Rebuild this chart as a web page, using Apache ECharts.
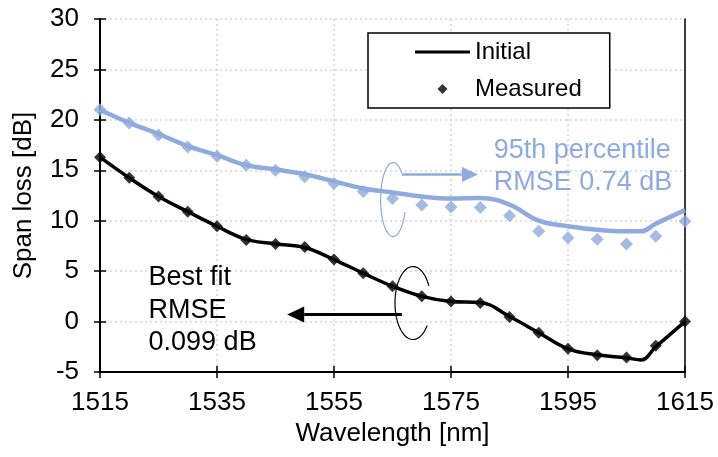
<!DOCTYPE html>
<html>
<head>
<meta charset="utf-8">
<title>Span loss vs wavelength</title>
<script src="https://cdn.jsdelivr.net/npm/echarts@6/dist/echarts.min.js"></script>
<style>
  html, body { margin: 0; padding: 0; background: #fff; }
  #chart { width: 718px; height: 457px; }
</style>
</head>
<body>
<div id="chart"></div>
<script>
// measured points, every 5 nm
const wavelengths = [1515, 1520, 1525, 1530, 1535, 1540, 1545, 1550, 1555, 1560, 1565,
  1570, 1575, 1580, 1585, 1590, 1595, 1600, 1605, 1610, 1615];
const initialMeasured = [16.3, 14.25, 12.4, 10.9, 9.45, 8.1, 7.7, 7.4, 6.15, 4.8, 3.5,
  2.5, 2.0, 1.85, 0.45, -1.1, -2.7, -3.35, -3.55, -2.4, 0.0];
const p95Measured = [21.0, 19.7, 18.5, 17.3, 16.4, 15.5, 15.0, 14.35, 13.7, 12.9, 12.2,
  11.55, 11.35, 11.3, 10.5, 8.95, 8.3, 8.15, 7.7, 8.45, 9.95];

// fitted curves
const fitWavelengths = [1515, 1520, 1525, 1530, 1535, 1540, 1545, 1550, 1555, 1560, 1565,
  1570, 1575, 1580, 1585, 1590, 1595, 1600, 1605, 1607.5, 1610, 1615];
const initialFit = [16.3, 14.25, 12.4, 10.9, 9.45, 8.15, 7.7, 7.35, 6.15, 4.8, 3.5,
  2.5, 2.0, 1.9, 0.5, -1.1, -2.7, -3.3, -3.6, -3.8, -2.5, 0.0];
const p95Fit = [21.0, 19.7, 18.6, 17.4, 16.5, 15.5, 15.1, 14.6, 13.9, 13.2, 12.8,
  12.4, 12.2, 12.25, 11.6, 10.0, 9.45, 9.1, 8.95, 8.95, 9.7, 11.05];

const xTicks = [1515, 1535, 1555, 1575, 1595, 1615];
const yTicks = [-5, 0, 5, 10, 15, 20, 25, 30];

const FONT = '"Liberation Sans", Arial, sans-serif';
const BLUE = '#8faadc';
const x0 = xTicks[0];   // x axis runs from 0 so the ticks land on 1515, 1535 ...

function pairs(xs, ys) {
  return xs.map((x, i) => [x - x0, ys[i]]);
}

const gridLine = { show: true, lineStyle: { color: '#d6d6d6', width: 1.5, type: [2, 3] } };
const xRange = { type: 'value', min: 0, max: xTicks[xTicks.length - 1] - x0, interval: xTicks[1] - xTicks[0] };
const yRange = { type: 'value', min: yTicks[0], max: yTicks[yTicks.length - 1], interval: yTicks[1] - yTicks[0] };
const tickStyle = { color: '#000', width: 1.5 };

const option = {
  animation: false,
  textStyle: { fontFamily: FONT },
  grid: { left: 100, right: 33, top: 19, bottom: 85 },
  legend: {
    left: 368, top: 33,
    orient: 'vertical',
    backgroundColor: '#fff',
    borderColor: '#000', borderWidth: 1.5,
    padding: [5, 28, 5, 47],
    itemWidth: 55, itemHeight: 10, itemGap: 9,
    textStyle: { fontSize: 24, color: '#000', fontFamily: FONT, lineHeight: 28 },
    data: [
      { name: 'Initial', icon: 'path://M0 0 H55 V3 H0 Z' },
      { name: 'Measured', icon: 'path://M5 0 L10 5 L5 10 L0 5 Z' }
    ],
    selectedMode: false
  },
  xAxis: [
    Object.assign({}, xRange, {
      position: 'bottom',
      name: 'Wavelength [nm]', nameLocation: 'middle', nameGap: 45,
      nameTextStyle: { fontSize: 26, color: '#000', fontFamily: FONT },
      axisLine: { show: true, onZero: false, lineStyle: { color: '#000', width: 2 } },
      axisTick: { show: true, length: 6, lineStyle: tickStyle },
      axisLabel: { fontSize: 26, color: '#000', margin: 18, formatter: v => String(v + x0) },
      splitLine: gridLine
    }),
    // second copy only to draw the inner half of the ticks
    Object.assign({}, xRange, {
      position: 'bottom',
      axisLine: { show: false, onZero: false },
      axisTick: { show: true, inside: true, length: 6, lineStyle: tickStyle },
      axisLabel: { show: false },
      splitLine: { show: false }
    })
  ],
  yAxis: [
    Object.assign({}, yRange, {
      position: 'left',
      name: 'Span loss [dB]', nameLocation: 'middle', nameGap: 63,
      nameTextStyle: { fontSize: 26, color: '#000', fontFamily: FONT },
      axisLine: { show: true, onZero: false, lineStyle: { color: '#000', width: 2 } },
      axisTick: { show: true, length: 6, lineStyle: tickStyle },
      axisLabel: { fontSize: 26, color: '#000', margin: 21 },
      splitLine: gridLine
    }),
    Object.assign({}, yRange, {
      position: 'left',
      axisLine: { show: false, onZero: false },
      axisTick: { show: true, inside: true, length: 6, lineStyle: tickStyle },
      axisLabel: { show: false },
      splitLine: { show: false }
    }),
    // right frame line
    Object.assign({}, yRange, {
      position: 'right',
      axisLine: { show: true, onZero: false, lineStyle: { color: '#000', width: 1.5 } },
      axisTick: { show: false },
      axisLabel: { show: false },
      splitLine: { show: false }
    })
  ],
  series: [
    {
      name: '95th percentile',
      type: 'line',
      data: pairs(fitWavelengths, p95Fit),
      symbol: 'none',
      smooth: 0.4,
      lineStyle: { color: BLUE, width: 4.5 },
      z: 2
    },
    {
      name: '95th percentile measured',
      type: 'scatter',
      data: pairs(wavelengths, p95Measured),
      symbol: 'diamond',
      symbolSize: 13,
      itemStyle: { color: BLUE },
      z: 3
    },
    {
      name: 'Initial',
      type: 'line',
      data: pairs(fitWavelengths, initialFit),
      symbol: 'none',
      smooth: 0.4,
      lineStyle: { color: '#000', width: 3.5 },
      itemStyle: { color: '#000' },
      z: 4
    },
    {
      name: 'Measured',
      type: 'scatter',
      data: pairs(wavelengths, initialMeasured),
      symbol: 'diamond',
      symbolSize: 12,
      itemStyle: { color: '#000' },
      z: 5
    }
  ]
};

const chart = echarts.init(document.getElementById('chart'));
chart.setOption(option);

// ---- annotations (ellipses, arrows, text), placed in data units ----
function px(w, v) {
  return chart.convertToPixel({ seriesIndex: 0 }, [w - x0, v]);
}

// open ellipse, drawn from angle a0 backwards round the left side to a1
function openEllipse(c, rx, ry, a0, a1, color, width) {
  const pts = [];
  const steps = 60;
  const end = a1 - 360;
  for (let i = 0; i <= steps; i++) {
    const a = (a0 + (end - a0) * i / steps) * Math.PI / 180;
    pts.push([c[0] + rx * Math.cos(a), c[1] + ry * Math.sin(a)]);
  }
  return { type: 'polyline', shape: { points: pts }, style: { stroke: color, lineWidth: width, fill: null }, z: 10 };
}

function arrow(p, q, color, width, headLen, headHalf) {
  const dx = q[0] - p[0], dy = q[1] - p[1];
  const len = Math.sqrt(dx * dx + dy * dy);
  const ux = dx / len, uy = dy / len;
  const bx = q[0] - ux * headLen, by = q[1] - uy * headLen;
  return [
    { type: 'line', shape: { x1: p[0], y1: p[1], x2: bx, y2: by }, style: { stroke: color, lineWidth: width }, z: 10 },
    { type: 'polygon', shape: { points: [q, [bx - uy * headHalf, by + ux * headHalf], [bx + uy * headHalf, by - ux * headHalf]] },
      style: { fill: color }, z: 10 }
  ];
}

function label(pos, text, color) {
  return {
    type: 'text', x: pos[0], y: pos[1], z: 10,
    style: { text: text, fill: color, font: '27px ' + FONT, lineHeight: 32.5, verticalAlign: 'top', align: 'left' }
  };
}

function drawNotes() {
  const els = [];
  els.push(openEllipse(px(1565.1, 12.1), 12.5, 37, -46, 20, BLUE, 1.2));
  els.push.apply(els, arrow(px(1566.6, 14.58), px(1579.6, 14.58), BLUE, 2.5, 16, 7.5));
  els.push(label(px(1582.3, 18.6), '95th percentile\nRMSE 0.74 dB', BLUE));

  els.push(openEllipse(px(1568.5, 1.84), 18, 36.5, -28, 38, '#000', 1.2));
  els.push.apply(els, arrow(px(1566.6, 0.69), px(1547.0, 0.69), '#000', 3, 17, 8));
  els.push(label(px(1523.3, 5.95), 'Best fit\nRMSE\n0.099 dB', '#000'));

  chart.setOption({ graphic: { elements: els } });
}

drawNotes();
</script>
</body>
</html>
